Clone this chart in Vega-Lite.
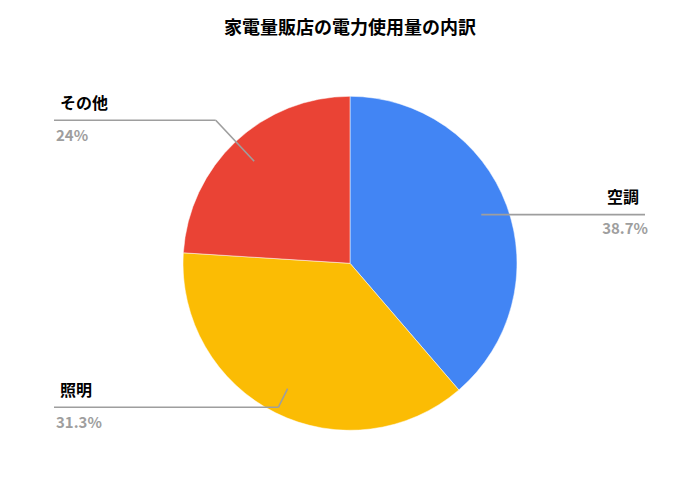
{
  "$schema": "https://vega.github.io/schema/vega-lite/v6.json",
  "width": 700,
  "height": 481.4,
  "autosize": "none",
  "padding": {"top": 22.6, "left": 0, "right": 0, "bottom": 0},
  "background": "#ffffff",
  "config": {"view": {"stroke": null}, "font": "Noto Sans CJK JP"},
  "title": {
    "text": "家電量販店の電力使用量の内訳",
    "fontSize": 18,
    "fontWeight": "bold",
    "font": "Noto Sans CJK JP",
    "color": "#000000",
    "anchor": "middle",
    "frame": "group",
    "offset": -15
  },
  "data": {
    "values": [
      {"category": "空調", "value": 38.7, "label": "38.7%"},
      {"category": "照明", "value": 37.3, "label": "31.3%"},
      {"category": "その他", "value": 24, "label": "24%"}
    ]
  },
  "transform": [
    {"window": [{"op": "row_number", "as": "idx"}]},
    {"joinaggregate": [{"op": "sum", "field": "value", "as": "total"}]},
    {"window": [{"op": "sum", "field": "value", "as": "cum"}], "sort": [{"field": "idx"}], "frame": [null, 0]},
    {"calculate": "2*PI*(datum.cum - datum.value/2)/datum.total", "as": "th"},
    {"calculate": "sin(datum.th)", "as": "s"},
    {"calculate": "cos(datum.th)", "as": "c"},
    {"calculate": "140*datum.s", "as": "ax"},
    {"calculate": "140*datum.c", "as": "ay"},
    {"calculate": "abs(datum.c) < 0.5", "as": "horiz"},
    {"calculate": "datum.horiz ? datum.ay : (datum.c > 0 ? 143 : -144)", "as": "ey"},
    {"calculate": "datum.horiz ? datum.ax : datum.ey*datum.s/datum.c", "as": "ex"},
    {"calculate": "datum.s > 0 ? 295 : -296", "as": "endx"}
  ],
  "layer": [
    {
      "mark": {"type": "arc", "outerRadius": 167, "stroke": "#ffffff", "strokeWidth": 0.5},
      "encoding": {
        "theta": {"field": "value", "type": "quantitative", "stack": true},
        "order": {"field": "idx", "type": "quantitative"},
        "color": {
          "field": "category",
          "type": "nominal",
          "scale": {"domain": ["空調", "照明", "その他"], "range": ["#4285F4", "#FBBC04", "#EA4335"]},
          "legend": null
        }
      }
    },
    {
      "mark": {"type": "rule", "color": "#9e9e9e", "strokeWidth": 1.6},
      "encoding": {
        "x": {"field": "ax", "type": "quantitative", "scale": {"domain": [-350, 350], "nice": false, "zero": false}, "axis": null},
        "y": {"field": "ay", "type": "quantitative", "scale": {"domain": [-240.7, 240.7], "nice": false, "zero": false}, "axis": null},
        "x2": {"field": "ex"},
        "y2": {"field": "ey"}
      }
    },
    {
      "mark": {"type": "rule", "color": "#9e9e9e", "strokeWidth": 1.6},
      "encoding": {
        "x": {"field": "ex", "type": "quantitative", "scale": {"domain": [-350, 350], "nice": false, "zero": false}, "axis": null},
        "y": {"field": "ey", "type": "quantitative", "scale": {"domain": [-240.7, 240.7], "nice": false, "zero": false}, "axis": null},
        "x2": {"field": "endx"},
        "y2": {"field": "ey"}
      }
    },
    {
      "transform": [{"filter": "datum.s > 0"}],
      "layer": [
        {
          "mark": {"type": "text", "align": "right", "baseline": "middle", "dy": -17, "dx": -6, "fontSize": 16, "fontWeight": "bold", "color": "#000000", "font": "Noto Sans CJK JP"},
          "encoding": {
            "x": {"field": "endx", "type": "quantitative", "scale": {"domain": [-350, 350], "nice": false, "zero": false}, "axis": null},
            "y": {"field": "ey", "type": "quantitative", "scale": {"domain": [-240.7, 240.7], "nice": false, "zero": false}, "axis": null},
            "text": {"field": "category"}
          }
        },
        {
          "mark": {"type": "text", "align": "right", "baseline": "middle", "dy": 14, "dx": 3, "fontSize": 15, "fontWeight": "bold", "color": "#9e9e9e", "font": "Noto Sans CJK JP"},
          "encoding": {
            "x": {"field": "endx", "type": "quantitative", "scale": {"domain": [-350, 350], "nice": false, "zero": false}, "axis": null},
            "y": {"field": "ey", "type": "quantitative", "scale": {"domain": [-240.7, 240.7], "nice": false, "zero": false}, "axis": null},
            "text": {"field": "label"}
          }
        }
      ]
    },
    {
      "transform": [{"filter": "datum.s <= 0"}],
      "layer": [
        {
          "mark": {"type": "text", "align": "left", "baseline": "middle", "dy": -16, "dx": 6, "fontSize": 16, "fontWeight": "bold", "color": "#000000", "font": "Noto Sans CJK JP"},
          "encoding": {
            "x": {"field": "endx", "type": "quantitative", "scale": {"domain": [-350, 350], "nice": false, "zero": false}, "axis": null},
            "y": {"field": "ey", "type": "quantitative", "scale": {"domain": [-240.7, 240.7], "nice": false, "zero": false}, "axis": null},
            "text": {"field": "category"}
          }
        },
        {
          "mark": {"type": "text", "align": "left", "baseline": "middle", "dy": 16, "dx": 2, "fontSize": 15, "fontWeight": "bold", "color": "#9e9e9e", "font": "Noto Sans CJK JP"},
          "encoding": {
            "x": {"field": "endx", "type": "quantitative", "scale": {"domain": [-350, 350], "nice": false, "zero": false}, "axis": null},
            "y": {"field": "ey", "type": "quantitative", "scale": {"domain": [-240.7, 240.7], "nice": false, "zero": false}, "axis": null},
            "text": {"field": "label"}
          }
        }
      ]
    }
  ]
}
